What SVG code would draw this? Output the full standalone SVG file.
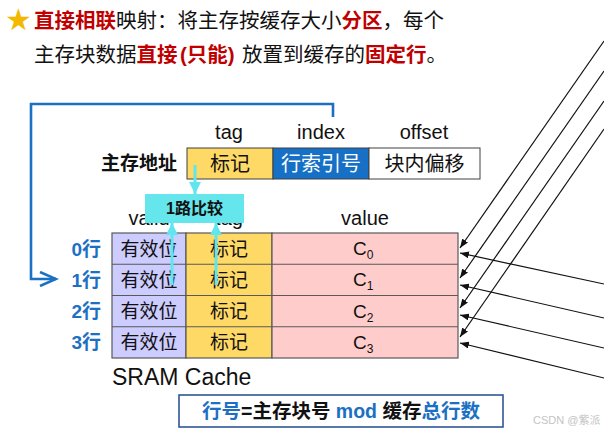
<svg xmlns="http://www.w3.org/2000/svg" width="604" height="432" viewBox="0 0 604 432">
<style>
text{font-family:"Liberation Sans","Noto Sans CJK SC",sans-serif;fill:#111}
.red{fill:#C00000;font-weight:bold}
.hdr{font-size:20px;text-anchor:middle}
.cell{font-size:19px;text-anchor:middle}
.addr{font-size:20px;text-anchor:middle}
.row{font-size:19px;font-weight:bold;fill:#1C70C4;text-anchor:end}
.blue{fill:#1C70C4}
.grid{stroke:#595959;stroke-width:1.2}
.blk{stroke:#111;stroke-width:1.2;fill:none;marker-end:url(#ah)}
.cy{stroke:#5FE6EE;stroke-width:3;fill:none;marker-end:url(#ch)}
</style>
<defs>
<marker id="ah" markerUnits="userSpaceOnUse" markerWidth="9" markerHeight="7" refX="9" refY="3.5" orient="auto"><path d="M0,0 L9,3.5 L0,7 z" fill="#111"/></marker>
<marker id="ch" markerUnits="userSpaceOnUse" markerWidth="12" markerHeight="12" refX="12" refY="6" orient="auto"><path d="M0,0 L12,6 L0,12 z" fill="#5FE6EE"/></marker>
<marker id="bh" markerUnits="userSpaceOnUse" markerWidth="20" markerHeight="16" refX="17" refY="8" orient="auto"><path d="M1,1 L17,8 L1,15" fill="none" stroke="#1C70C4" stroke-width="2.6"/></marker>
</defs>

<g id="title">
<text x="18.5" y="30" style="font-family:'DejaVu Sans',sans-serif;font-size:30px;fill:#F5B800;text-anchor:middle">★</text>
<text x="34" y="28" style="font-size:20.5px"><tspan class="red">直接相联</tspan>映射：将主存按缓存大小<tspan class="red">分区</tspan>，每个</text>
<text x="34" y="62" style="font-size:20.5px">主存块数据<tspan class="red">直接</tspan><tspan class="red" x="180">(只能)</tspan><tspan x="242">放置到缓存的</tspan><tspan class="red">固定行</tspan>。</text>
</g>

<g id="address">
<text class="hdr" x="229" y="139">tag</text>
<text class="hdr" x="321" y="139">index</text>
<text class="hdr" x="424" y="139">offset</text>
<text x="177" y="170" style="font-size:19px;font-weight:bold;text-anchor:end">主存地址</text>
<rect x="187" y="148" width="86" height="31" fill="#FFD966" stroke="#404040" stroke-width="1"/>
<rect x="273" y="148" width="96" height="31" fill="#1570C6" stroke="#404040" stroke-width="1"/>
<rect x="369" y="148" width="111" height="31" fill="#fff" stroke="#404040" stroke-width="1"/>
<text class="addr" x="230" y="170.5">标记</text>
<text class="addr" x="321" y="170.5" style="fill:#fff">行索引号</text>
<text class="addr" x="424.5" y="170.5">块内偏移</text>
</g>

<g id="cache">
<text class="hdr" x="149" y="225">valid</text>
<text class="hdr" x="229" y="225">tag</text>
<text class="hdr" x="365" y="225">value</text>
<g class="grid">
<rect x="112" y="233" width="74" height="125" fill="#CCCCFF"/>
<rect x="186" y="233" width="86" height="125" fill="#FFD966"/>
<rect x="272" y="233" width="186" height="125" fill="#FFCCCC"/>
<line x1="112" y1="264.25" x2="458" y2="264.25"/>
<line x1="112" y1="295.5" x2="458" y2="295.5"/>
<line x1="112" y1="326.75" x2="458" y2="326.75"/>
</g>
<text class="row" x="101" y="255.5">0行</text>
<text class="row" x="101" y="286.8">1行</text>
<text class="row" x="101" y="318">2行</text>
<text class="row" x="101" y="349.3">3行</text>
<text class="cell" x="149" y="255.5">有效位</text>
<text class="cell" x="149" y="286.8">有效位</text>
<text class="cell" x="149" y="318">有效位</text>
<text class="cell" x="149" y="349.3">有效位</text>
<text class="cell" x="229" y="255.5">标记</text>
<text class="cell" x="229" y="286.8">标记</text>
<text class="cell" x="229" y="318">标记</text>
<text class="cell" x="229" y="349.3">标记</text>
<text x="353" y="255" style="font-size:19px">C<tspan dy="4" style="font-size:12px">0</tspan></text>
<text x="353" y="286.3" style="font-size:19px">C<tspan dy="4" style="font-size:12px">1</tspan></text>
<text x="353" y="317.5" style="font-size:19px">C<tspan dy="4" style="font-size:12px">2</tspan></text>
<text x="353" y="348.8" style="font-size:19px">C<tspan dy="4" style="font-size:12px">3</tspan></text>
<text x="112" y="385" style="font-size:23px">SRAM Cache</text>
</g>

<g id="compare">
<rect x="145" y="194" width="99" height="29" fill="#64E6EC"/>
<text x="194.5" y="214" style="font-size:16px;font-weight:bold;text-anchor:middle">1路比较</text>
</g>

<g id="formula">
<rect x="179" y="395" width="324" height="32" fill="#fff" stroke="#2F5597" stroke-width="1.6"/>
<text x="341" y="418" style="font-size:19.5px;font-weight:bold;text-anchor:middle"><tspan class="blue">行号</tspan>=主存块号 <tspan class="blue">mod</tspan> 缓存<tspan class="blue">总行数</tspan></text>
</g>

<g id="connectors">
<polyline points="333,117 333,104 31,104 31,279 56,279" fill="none" stroke="#1C70C4" stroke-width="2.6" marker-end="url(#bh)"/>
<line class="cy" x1="195" y1="165" x2="195" y2="194"/>
<line class="cy" x1="172" y1="285" x2="172" y2="223"/>
<line class="cy" x1="216" y1="285" x2="216" y2="223"/>
<line class="blk" x1="604" y1="41" x2="460" y2="248"/>
<line class="blk" x1="604" y1="71" x2="460" y2="278"/>
<line class="blk" x1="604" y1="101" x2="460" y2="308"/>
<line class="blk" x1="604" y1="129" x2="460" y2="337"/>
<line class="blk" x1="604" y1="284" x2="460" y2="253"/>
<line class="blk" x1="604" y1="318" x2="460" y2="285"/>
<line class="blk" x1="604" y1="348" x2="460" y2="315"/>
<line class="blk" x1="604" y1="378" x2="460" y2="343"/>
</g>

<text x="533" y="424" style="font-size:11px;fill:#c4c4c4">CSDN @紫派</text>
</svg>
